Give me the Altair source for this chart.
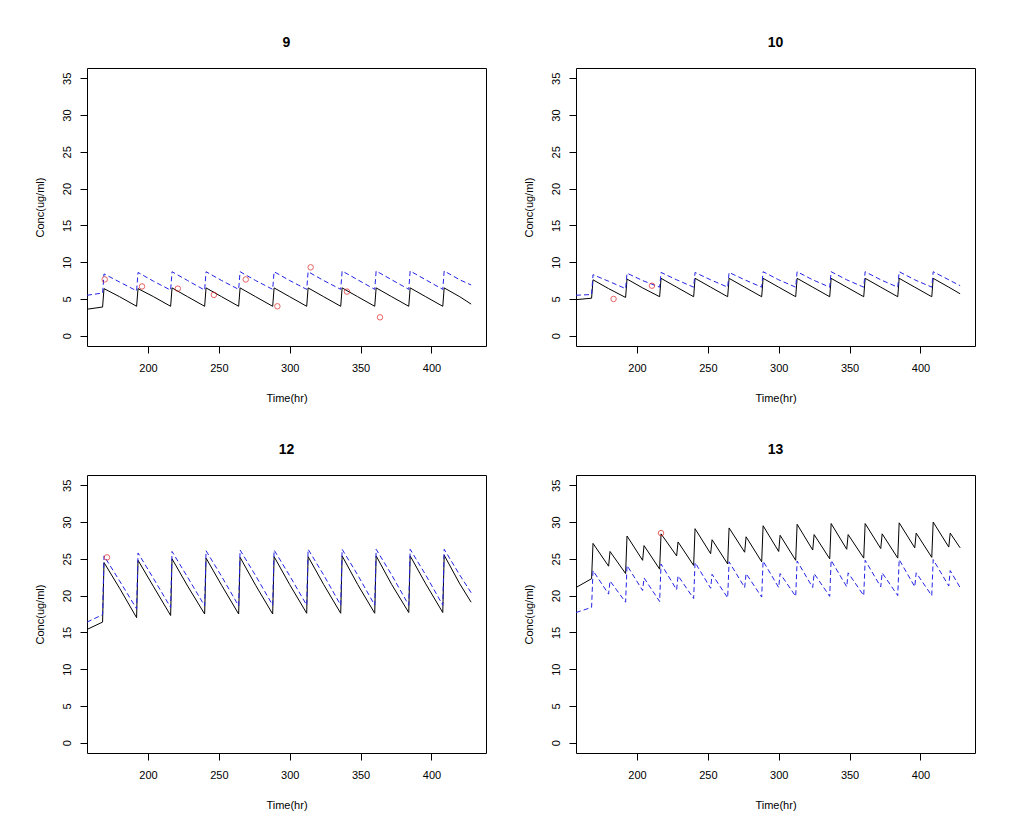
import altair as alt
import pandas as pd

FONT = "Liberation Sans"

# ---- time grids (hr) ----
T24 = [157, 168, 169, 180, 192, 193, 204, 216, 217, 228, 240, 241, 252,
       264, 265, 276, 288, 289, 300, 312, 313, 324, 336, 337, 348,
       360, 361, 372, 384, 385, 396, 408, 409, 420, 428]
T12 = [157, 168, 169, 180, 181, 192, 193, 204, 205, 216, 217, 228, 229,
       240, 241, 252, 253, 264, 265, 276, 277, 288, 289, 300, 301,
       312, 313, 324, 325, 336, 337, 348, 349, 360, 361, 372, 373,
       384, 385, 396, 397, 408, 409, 420, 421, 428]

# ---- panel 9 ----
P9_BLACK = [3.6, 3.9, 6.4, 5.3, 4.0, 6.4, 5.3, 4.0, 6.5, 5.3, 4.0, 6.5, 5.3,
            4.0, 6.5, 5.3, 4.0, 6.5, 5.3, 4.0, 6.5, 5.3, 4.0, 6.5, 5.3,
            4.0, 6.5, 5.3, 4.0, 6.5, 5.3, 4.0, 6.5, 5.3, 4.3]
P9_BLUE = [5.5, 5.8, 8.4, 7.3, 6.1, 8.6, 7.4, 6.2, 8.7, 7.5, 6.2, 8.7, 7.5,
           6.3, 8.7, 7.5, 6.3, 8.7, 7.5, 6.3, 8.7, 7.5, 6.3, 8.8, 7.6,
           6.3, 8.8, 7.6, 6.3, 8.8, 7.6, 6.3, 8.8, 7.6, 6.9]
P9_OBS_T = [169.5, 195.8, 221.1, 246.5, 269.0, 291.3, 314.8, 340.4, 363.7]
P9_OBS_C = [7.65, 6.7, 6.4, 5.55, 7.65, 4.0, 9.3, 6.0, 2.5]

# ---- panel 10 ----
P10_BLACK = [4.9, 5.1, 7.6, 6.4, 5.2, 7.7, 6.5, 5.3, 7.8, 6.6, 5.3, 7.8, 6.6,
             5.3, 7.8, 6.6, 5.3, 7.8, 6.6, 5.3, 7.8, 6.6, 5.3, 7.8, 6.6,
             5.3, 7.8, 6.6, 5.3, 7.8, 6.6, 5.3, 7.8, 6.6, 5.7]
P10_BLUE = [5.5, 5.6, 8.3, 7.4, 6.4, 8.5, 7.5, 6.6, 8.6, 7.6, 6.6, 8.6, 7.6,
            6.6, 8.6, 7.6, 6.6, 8.7, 7.6, 6.6, 8.7, 7.6, 6.6, 8.7, 7.6,
            6.6, 8.7, 7.6, 6.6, 8.7, 7.6, 6.6, 8.7, 7.6, 6.8]
P10_OBS_T = [183.5, 210.6]
P10_OBS_C = [5.0, 6.8]

# ---- panel 12 ----
P12_BLACK = [15.4, 16.4, 24.5, 21.0, 17.0, 24.8, 21.2, 17.3, 25.0, 21.3,
             17.5, 25.1, 21.4, 17.5, 25.2, 21.4, 17.5, 25.3, 21.5, 17.6,
             25.3, 21.5, 17.6, 25.4, 21.5, 17.6, 25.4, 21.5, 17.7, 25.4,
             21.6, 17.7, 25.5, 21.6, 19.1]
P12_BLUE = [16.4, 17.4, 25.4, 22.0, 18.2, 25.8, 22.3, 18.4, 26.0, 22.5,
            18.6, 26.1, 22.6, 18.6, 26.2, 22.7, 18.7, 26.2, 22.7, 18.7,
            26.3, 22.8, 18.7, 26.3, 22.8, 18.7, 26.3, 22.8, 18.7, 26.3,
            22.8, 18.7, 26.3, 22.8, 20.4]
P12_OBS_T = [171.1]
P12_OBS_C = [25.2]

# ---- panel 13 ----
P13_BLACK = [21.1, 22.3, 27.1, 24.0, 26.0, 23.0, 28.1, 24.8, 26.8, 23.6,
             28.4, 25.4, 27.3, 24.1, 29.1, 25.7, 27.6, 24.3, 29.2, 25.9,
             28.0, 24.6, 29.5, 26.0, 28.2, 24.8, 29.7, 26.2, 28.3, 25.0,
             29.8, 26.3, 28.3, 25.1, 29.8, 26.4, 28.4, 25.1, 29.9, 26.5,
             28.5, 25.2, 30.0, 26.6, 28.5, 26.5]
P13_BLUE = [17.7, 18.4, 23.4, 20.2, 22.0, 19.1, 24.1, 20.7, 22.4, 19.2,
            24.3, 20.8, 22.7, 19.6, 24.5, 21.0, 22.9, 19.7, 24.6, 21.1,
            23.0, 19.8, 24.7, 21.1, 23.0, 19.9, 24.7, 21.1, 23.0, 19.9,
            24.8, 21.2, 23.1, 20.0, 24.8, 21.2, 23.1, 20.0, 24.9, 21.2,
            23.1, 20.0, 24.9, 21.3, 23.4, 21.1]
P13_OBS_T = [217.0]
P13_OBS_C = [28.5]

X_TICKS = [200, 250, 300, 350, 400]
Y_TICKS = [0, 5, 10, 15, 20, 25, 30, 35]
X_DOMAIN = [157, 438.5]
Y_DOMAIN = [-1.4, 36.4]

W, H = 399, 278


def panel(title, t, black, blue, ot, oc):
    xs = alt.Scale(domain=X_DOMAIN, nice=False, zero=False)
    ys = alt.Scale(domain=Y_DOMAIN, nice=False, zero=False)
    xax = alt.Axis(values=X_TICKS, title="Time(hr)", grid=False, domain=False,
                   tickSize=7, tickColor="black", labelColor="black",
                   labelFont=FONT, labelFontSize=11, labelPadding=9,
                   labelOverlap=False,
                   titleFont=FONT, titleFontSize=11, titleFontWeight="normal",
                   titleColor="black", titleY=52, titleBaseline="middle",
                   labelFlush=False)
    yax = alt.Axis(values=Y_TICKS, title="Conc(ug/ml)", grid=False, domain=False,
                   tickSize=7, tickColor="black", labelColor="black",
                   labelFont=FONT, labelFontSize=11, labelPadding=13,
                   labelOverlap=False,
                   labelAngle=270, labelAlign="center", labelBaseline="middle",
                   titleFont=FONT, titleFontSize=11, titleFontWeight="normal",
                   titleColor="black", titleX=-47, titleY=H / 2,
                   titleAngle=270, titleAlign="center", titleBaseline="middle",
                   labelFlush=False)
    X = alt.X("t:Q", scale=xs, axis=xax)
    Y = alt.Y("c:Q", scale=ys, axis=yax)
    df_b = pd.DataFrame({"t": t, "c": black})
    df_u = pd.DataFrame({"t": t, "c": blue})
    df_o = pd.DataFrame({"t": ot, "c": oc})
    l_black = alt.Chart(df_b).mark_line(color="black", strokeWidth=1.0, clip=True).encode(
        x=X, y=Y)
    l_blue = alt.Chart(df_u).mark_line(color="#2323e6", strokeWidth=1.0,
                                       strokeDash=[5, 3], clip=True).encode(x=X, y=Y)
    pts = alt.Chart(df_o).mark_point(shape="circle", color="#e02020", size=30,
                                     strokeWidth=1, filled=False, clip=True).encode(x=X, y=Y)
    return alt.layer(l_black, l_blue, pts).properties(
        width=W, height=H,
        title=alt.TitleParams(text=title, font=FONT, fontSize=14, fontWeight="bold",
                              color="black", anchor="middle", offset=18))


p9 = panel("9", T24, P9_BLACK, P9_BLUE, P9_OBS_T, P9_OBS_C)
p10 = panel("10", T24, P10_BLACK, P10_BLUE, P10_OBS_T, P10_OBS_C)
p12 = panel("12", T24, P12_BLACK, P12_BLUE, P12_OBS_T, P12_OBS_C)
p13 = panel("13", T12, P13_BLACK, P13_BLUE, P13_OBS_T, P13_OBS_C)

chart = alt.vconcat(
    alt.hconcat(p9, p10, spacing=35),
    alt.hconcat(p12, p13, spacing=35),
    spacing=38,
).properties(
    padding={"left": 33, "top": 35, "right": 5, "bottom": 5},
    background="white",
).configure_view(stroke="black", strokeWidth=1
).configure_axis(labelOverlap=False)

chart.save("out.html", embed_options={"renderer": "svg", "actions": False})
